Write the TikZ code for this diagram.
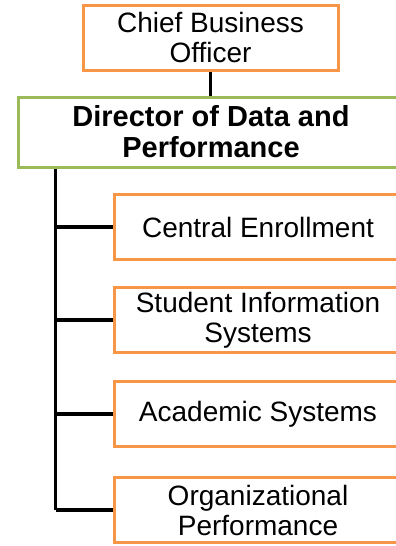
\documentclass[tikz,border=0pt]{standalone}
\usepackage{fontspec}
\setmainfont{Liberation Sans}
\usepackage{tikz}
\usetikzlibrary{positioning}
\definecolor{boxorange}{HTML}{F79646}
\definecolor{boxgreen}{HTML}{9BBB59}

\begin{document}
\begin{tikzpicture}[
                x=1pt, y=-1pt,
                unit/.style={draw=boxorange,line width=3pt,fill=white,align=center,inner sep=0pt,
                    minimum width=288pt,minimum height=65pt,font=\fontsize{28}{30}\selectfont},
                head/.style={unit,draw=boxgreen,minimum width=386pt,minimum height=70pt,font=\fontsize{29}{31}\selectfont\bfseries},
                link/.style={draw=black,line width=3.5pt}
            ]
                \useasboundingbox (0,0) rectangle (396,546);
                \clip (0,0) rectangle (396,546);
                \node[unit,minimum width=255pt] (chief) at (210.5,37.5) {Chief Business\\Officer};
                \node[head] (director) at (211,132) {Director of Data and\\Performance};
                \draw[link] (chief.south) -- (chief.south |- director.north);
                \coordinate (trunk) at ([xshift=39pt]director.south west);
                \foreach \name/\y/\txt in {enroll/227/Central Enrollment,
                                           sis/320/Student Information\\Systems,
                                           acad/414/Academic Systems,
                                           orgperf/510/Organizational\\Performance}
                    {
                    \node[unit] (\name) at (258,\y) {\txt};
                    \draw[link] (trunk |- \name.west) -- (\name.west);
                }
                \draw[link] (trunk) -- (trunk |- orgperf.west);
            \end{tikzpicture}
\end{document}
